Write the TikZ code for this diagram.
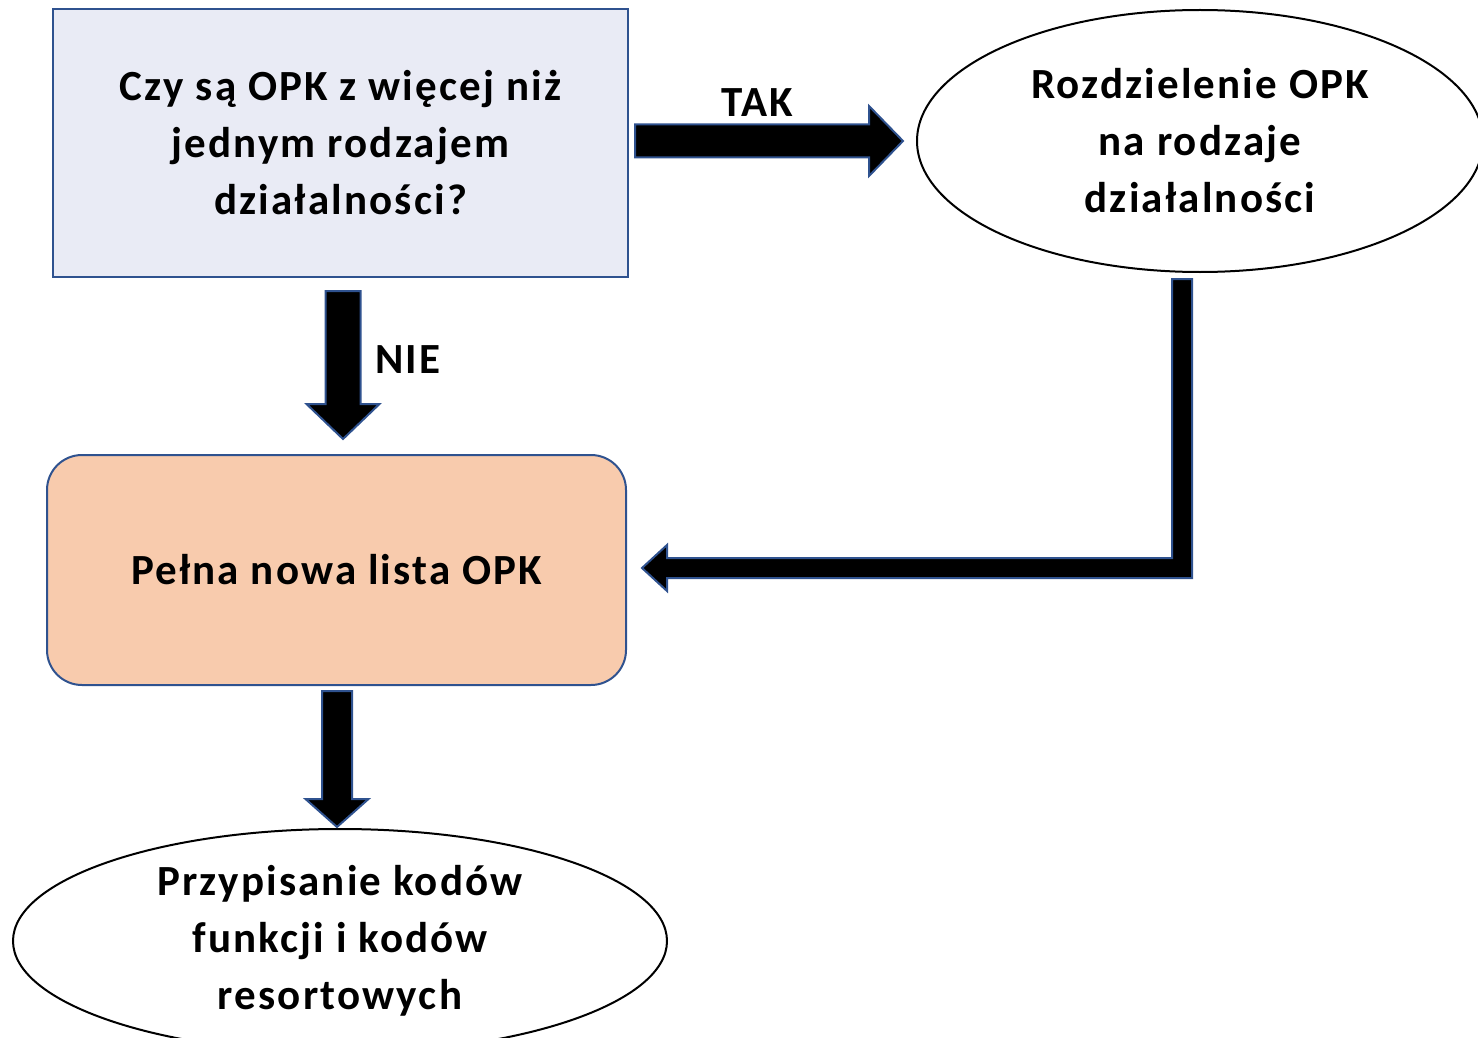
\documentclass[tikz,border=0pt]{standalone}
\usepackage{fontspec}
\setmainfont{Carlito}[LetterSpace=5]
\usetikzlibrary{calc, positioning, shapes.geometric}
\definecolor{edgeBlue}{HTML}{2F528F}
\definecolor{askFill}{HTML}{E9EBF5}
\definecolor{listFill}{HTML}{F8CBAD}

\begin{document}
\begin{tikzpicture}[x=1pt, y=-1pt,
    every node/.style={font=\fontsize{43}{57}\selectfont\bfseries, align=center},
    askbox/.style={draw=edgeBlue, fill=askFill, line width=2pt, minimum width=575pt, minimum height=268pt},
    listbox/.style={draw=edgeBlue, fill=listFill, line width=2pt, rounded corners=35pt, minimum width=579pt, minimum height=230pt},
    oval/.style={ellipse, draw=black, fill=white, line width=2pt, inner sep=0pt},
    blockarrow/.style={fill=black, draw=edgeBlue, line width=2pt, line join=miter}]
    \useasboundingbox (0,0) rectangle (1478,1038);

    % Nodes
    \node[askbox] (ask) at (340.5,143) {Czy są OPK z więcej niż\\jednym rodzajem\\działalności?};
    \node[oval, minimum width=566pt, minimum height=262pt] (split) at (1200,141) {Rozdzielenie OPK\\na rodzaje\\działalności};
    \node[listbox] (list) at (336.5,570) {Pełna nowa lista OPK};
    \node[oval, minimum width=654pt, minimum height=224pt] (codes) at (340,941) {Przypisanie kodów\\funkcji i kodów\\resortowych};

    % TAK
    \coordinate (takS) at ($(ask.east)+(6,-2)$);
    \coordinate (takT) at ($(split.west)+(-13,0)$);
    \draw[blockarrow] ($(takS)+(0,-16.5)$) -- ($(takT)+(-34,-16.5)$) -- ($(takT)+(-34,-35)$) -- (takT)
        -- ($(takT)+(-34,35)$) -- ($(takT)+(-34,16.5)$) -- ($(takS)+(0,16.5)$) -- cycle;
    \node (tak) at (757,103) {TAK};

    % NIE
    \coordinate (nieS) at ($(ask.south)+(2.5,13)$);
    \coordinate (nieT) at ($(list.north)+(6.5,-15)$);
    \draw[blockarrow] ($(nieS)+(-17.5,0)$) -- ($(nieT)+(-17.5,-35)$) -- ($(nieT)+(-36.5,-35)$) -- (nieT)
        -- ($(nieT)+(36.5,-35)$) -- ($(nieT)+(17.5,-35)$) -- ($(nieS)+(17.5,0)$) -- cycle;
    \node (nie) at (408,360) {NIE};

    % back from split to list
    \coordinate (sepS) at ($(split.south)+(-18,6)$);
    \coordinate (sepT) at ($(list.east)+(15,-2)$);
    \draw[blockarrow] ($(sepS)+(-10,0)$) -- ($(sepS |- sepT)+(-10,-10)$) -- ($(sepT)+(25,-10)$) -- ($(sepT)+(25,-23)$)
        -- (sepT) -- ($(sepT)+(25,23)$) -- ($(sepT)+(25,10)$) -- ($(sepS |- sepT)+(10,10)$) -- ($(sepS)+(10,0)$) -- cycle;

    % list to codes
    \coordinate (resS) at ($(list.south)+(0.5,5)$);
    \coordinate (resT) at ($(codes.north)+(-3,-1)$);
    \draw[blockarrow] ($(resS)+(-15,0)$) -- ($(resT)+(-15,-28)$) -- ($(resT)+(-31.5,-28)$) -- (resT)
        -- ($(resT)+(31.5,-28)$) -- ($(resT)+(15,-28)$) -- ($(resS)+(15,0)$) -- cycle;
\end{tikzpicture}
\end{document}
